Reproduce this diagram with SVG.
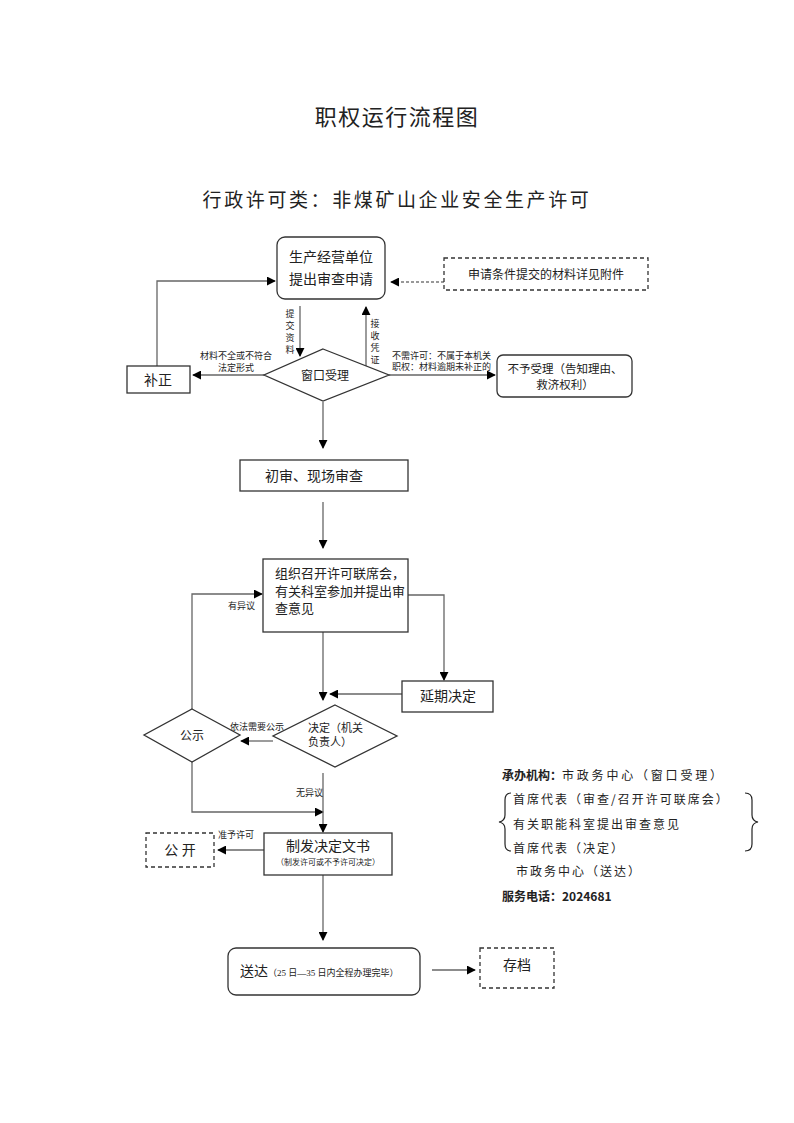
<svg xmlns="http://www.w3.org/2000/svg" width="794" height="1123" viewBox="0 0 794 1123">
<defs>
<marker id="ah" viewBox="0 0 10 10" refX="9" refY="5" markerWidth="9" markerHeight="9" markerUnits="userSpaceOnUse" orient="auto">
<path d="M0,0 L10,5 L0,10 z" fill="#000"/>
</marker>
</defs>
<style>
text{font-family:"Liberation Serif","Noto Sans CJK SC",serif;fill:#222}
.box{fill:#fff;stroke:#333;stroke-width:1.3}
.dash{fill:#fff;stroke:#333;stroke-width:1.3;stroke-dasharray:4,3}
.ln{fill:none;stroke:#666;stroke-width:1.3}
.arr{fill:none;stroke:#666;stroke-width:1.3;marker-end:url(#ah)}
.dl{fill:none;stroke:#333;stroke-width:1.2;stroke-dasharray:3,2;marker-end:url(#ah)}
.s{font-size:9px}
.m{font-size:14px}
.c{text-anchor:middle}
.r{font-family:"Noto Sans CJK SC",sans-serif;font-size:12px;fill:#222}
</style>
<rect width="794" height="1123" fill="#fff"/>
<g id="title">
<text x="397" y="125" class="c" style="font-size:22px;letter-spacing:1.5px">职权运行流程图</text>
<text x="397" y="207" class="c" style="font-size:19px;letter-spacing:2.6px">行政许可类：非煤矿山企业安全生产许可</text>
</g>
<g id="connectors">
<path class="dl" d="M444,282 L391,282"/>
<path class="arr" d="M300,306 L300,356"/>
<path class="arr" d="M366,367 L366,307"/>
<path class="arr" d="M264,375 L193,375"/>
<path class="arr" d="M157,366 L157,281 L275,281"/>
<path class="arr" d="M389,375 L495,375"/>
<path class="arr" d="M323,402 L323,448"/>
<path class="arr" d="M323,502 L323,548"/>
<path class="arr" d="M408,595 L444,595 L444,680"/>
<path class="arr" d="M402,694 L330,694"/>
<path class="arr" d="M323,632 L323,700"/>
<path class="arr" d="M273,741 L241,741"/>
<path class="arr" d="M192,709 L192,594 L262,594"/>
<path class="arr" d="M192,762 L192,812 L323,812"/>
<path class="arr" d="M323,773 L323,832"/>
<path class="arr" d="M264,850 L218,850"/>
<path class="arr" d="M323,875 L323,940"/>
<path class="arr" d="M432,970 L475,970"/>
<text x="290" y="317" class="s c">提</text>
<text x="290" y="329" class="s c">交</text>
<text x="290" y="341" class="s c">资</text>
<text x="290" y="353" class="s c">料</text>
<text x="375" y="327" class="s c">接</text>
<text x="375" y="339" class="s c">收</text>
<text x="375" y="351" class="s c">凭</text>
<text x="375" y="363" class="s c">证</text>
<text x="236" y="359" class="s c">材料不全或不符合</text>
<text x="236" y="371" class="s c">法定形式</text>
<text x="392" y="359" class="s">不需许可：不属于本机关</text>
<text x="392" y="370" class="s">职权：材料逾期未补正的</text>
<text x="228" y="609" class="s">有异议</text>
<text x="230" y="730" class="s">依法需要公示</text>
<text x="296" y="796" class="s">无异议</text>
<text x="218" y="838" class="s">准予许可</text>
</g>
<g id="n_apply">
<rect class="box" x="277" y="237" width="108" height="62" rx="8"/>
<text x="331" y="262" class="c" style="font-size:14px">生产经营单位</text>
<text x="331" y="284" class="c" style="font-size:14px">提出审查申请</text>
</g>
<g id="n_attach">
<rect class="dash" x="444" y="258" width="204" height="32"/>
<text x="546" y="279" class="c" style="font-size:12px">申请条件提交的材料详见附件</text>
</g>
<g id="n_window">
<path class="box" d="M323,349 L389,375 L323,401 L264,375 z"/>
<text x="325" y="380" class="c" style="font-size:12px">窗口受理</text>
</g>
<g id="n_fix">
<rect class="box" x="127" y="366" width="63" height="27"/>
<text x="158" y="385" class="c m">补正</text>
</g>
<g id="n_reject">
<rect class="box" x="497" y="355" width="135" height="42" rx="6"/>
<text x="565" y="373" class="c" style="font-size:11.5px">不予受理（告知理由、</text>
<text x="565" y="389" class="c" style="font-size:11.5px">救济权利）</text>
</g>
<g id="n_review">
<rect class="box" x="240" y="460" width="168" height="31"/>
<text x="265" y="481" class="m">初审、现场审查</text>
</g>
<g id="n_meeting">
<rect class="box" x="263" y="559" width="145" height="73"/>
<text x="275" y="578" style="font-size:13px">组织召开许可联席会，</text>
<text x="275" y="596" style="font-size:13px">有关科室参加并提出审</text>
<text x="275" y="613" style="font-size:13px">查意见</text>
</g>
<g id="n_delay">
<rect class="box" x="402" y="681" width="91" height="31"/>
<text x="448" y="701" class="c m">延期决定</text>
</g>
<g id="n_decide">
<path class="box" d="M335,705 L397,736 L335,767 L273,736 z"/>
<text x="308" y="732" style="font-size:11px">决定（机关</text>
<text x="308" y="746" style="font-size:11px">负责人）</text>
</g>
<g id="n_public">
<path class="box" d="M192,709 L240,735 L192,762 L144,735 z"/>
<text x="192" y="740" class="c" style="font-size:12px">公示</text>
</g>
<g id="n_issue">
<rect class="box" x="264" y="833" width="128" height="42"/>
<text x="328" y="851" class="c m">制发决定文书</text>
<text x="328" y="865" class="c" style="font-size:8px">（制发许可或不予许可决定）</text>
</g>
<g id="n_open">
<rect class="dash" x="146" y="833" width="68" height="34"/>
<text x="180" y="855" class="c m">公 开</text>
</g>
<g id="n_deliver">
<rect class="box" x="228" y="948" width="192" height="47" rx="8"/>
<text x="240" y="976"><tspan class="m">送达</tspan><tspan class="s">（25 日—35 日内全程办理完毕）</tspan></text>
</g>
<g id="n_archive">
<rect class="dash" x="480" y="948" width="74" height="40"/>
<text x="517" y="970" class="c m">存档</text>
</g>
<g id="info">
<text x="502" y="780" class="r"><tspan style="font-weight:bold">承办机构：</tspan><tspan letter-spacing="2.8">市政务中心（窗口受理）</tspan></text>
<path d="M511,793 Q505,793 505,800 L505,815 Q505,821 499,822 Q505,823 505,829 L505,844 Q505,851 511,851" fill="none" stroke="#222" stroke-width="1.2"/>
<path d="M745,793 Q752,793 752,800 L752,815 Q752,821 758,822 Q752,823 752,829 L752,844 Q752,851 745,851" fill="none" stroke="#222" stroke-width="1.2"/>
<text x="513" y="804" class="r" letter-spacing="2">首席代表（审查/召开许可联席会）</text>
<text x="513" y="829" class="r" letter-spacing="2">有关职能科室提出审查意见</text>
<text x="513" y="853" class="r" letter-spacing="2">首席代表（决定）</text>
<text x="516" y="876" class="r" letter-spacing="2">市政务中心（送达）</text>
<text x="502" y="901" class="r" style="font-weight:bold">服务电话：2024681</text>
</g>
</svg>
